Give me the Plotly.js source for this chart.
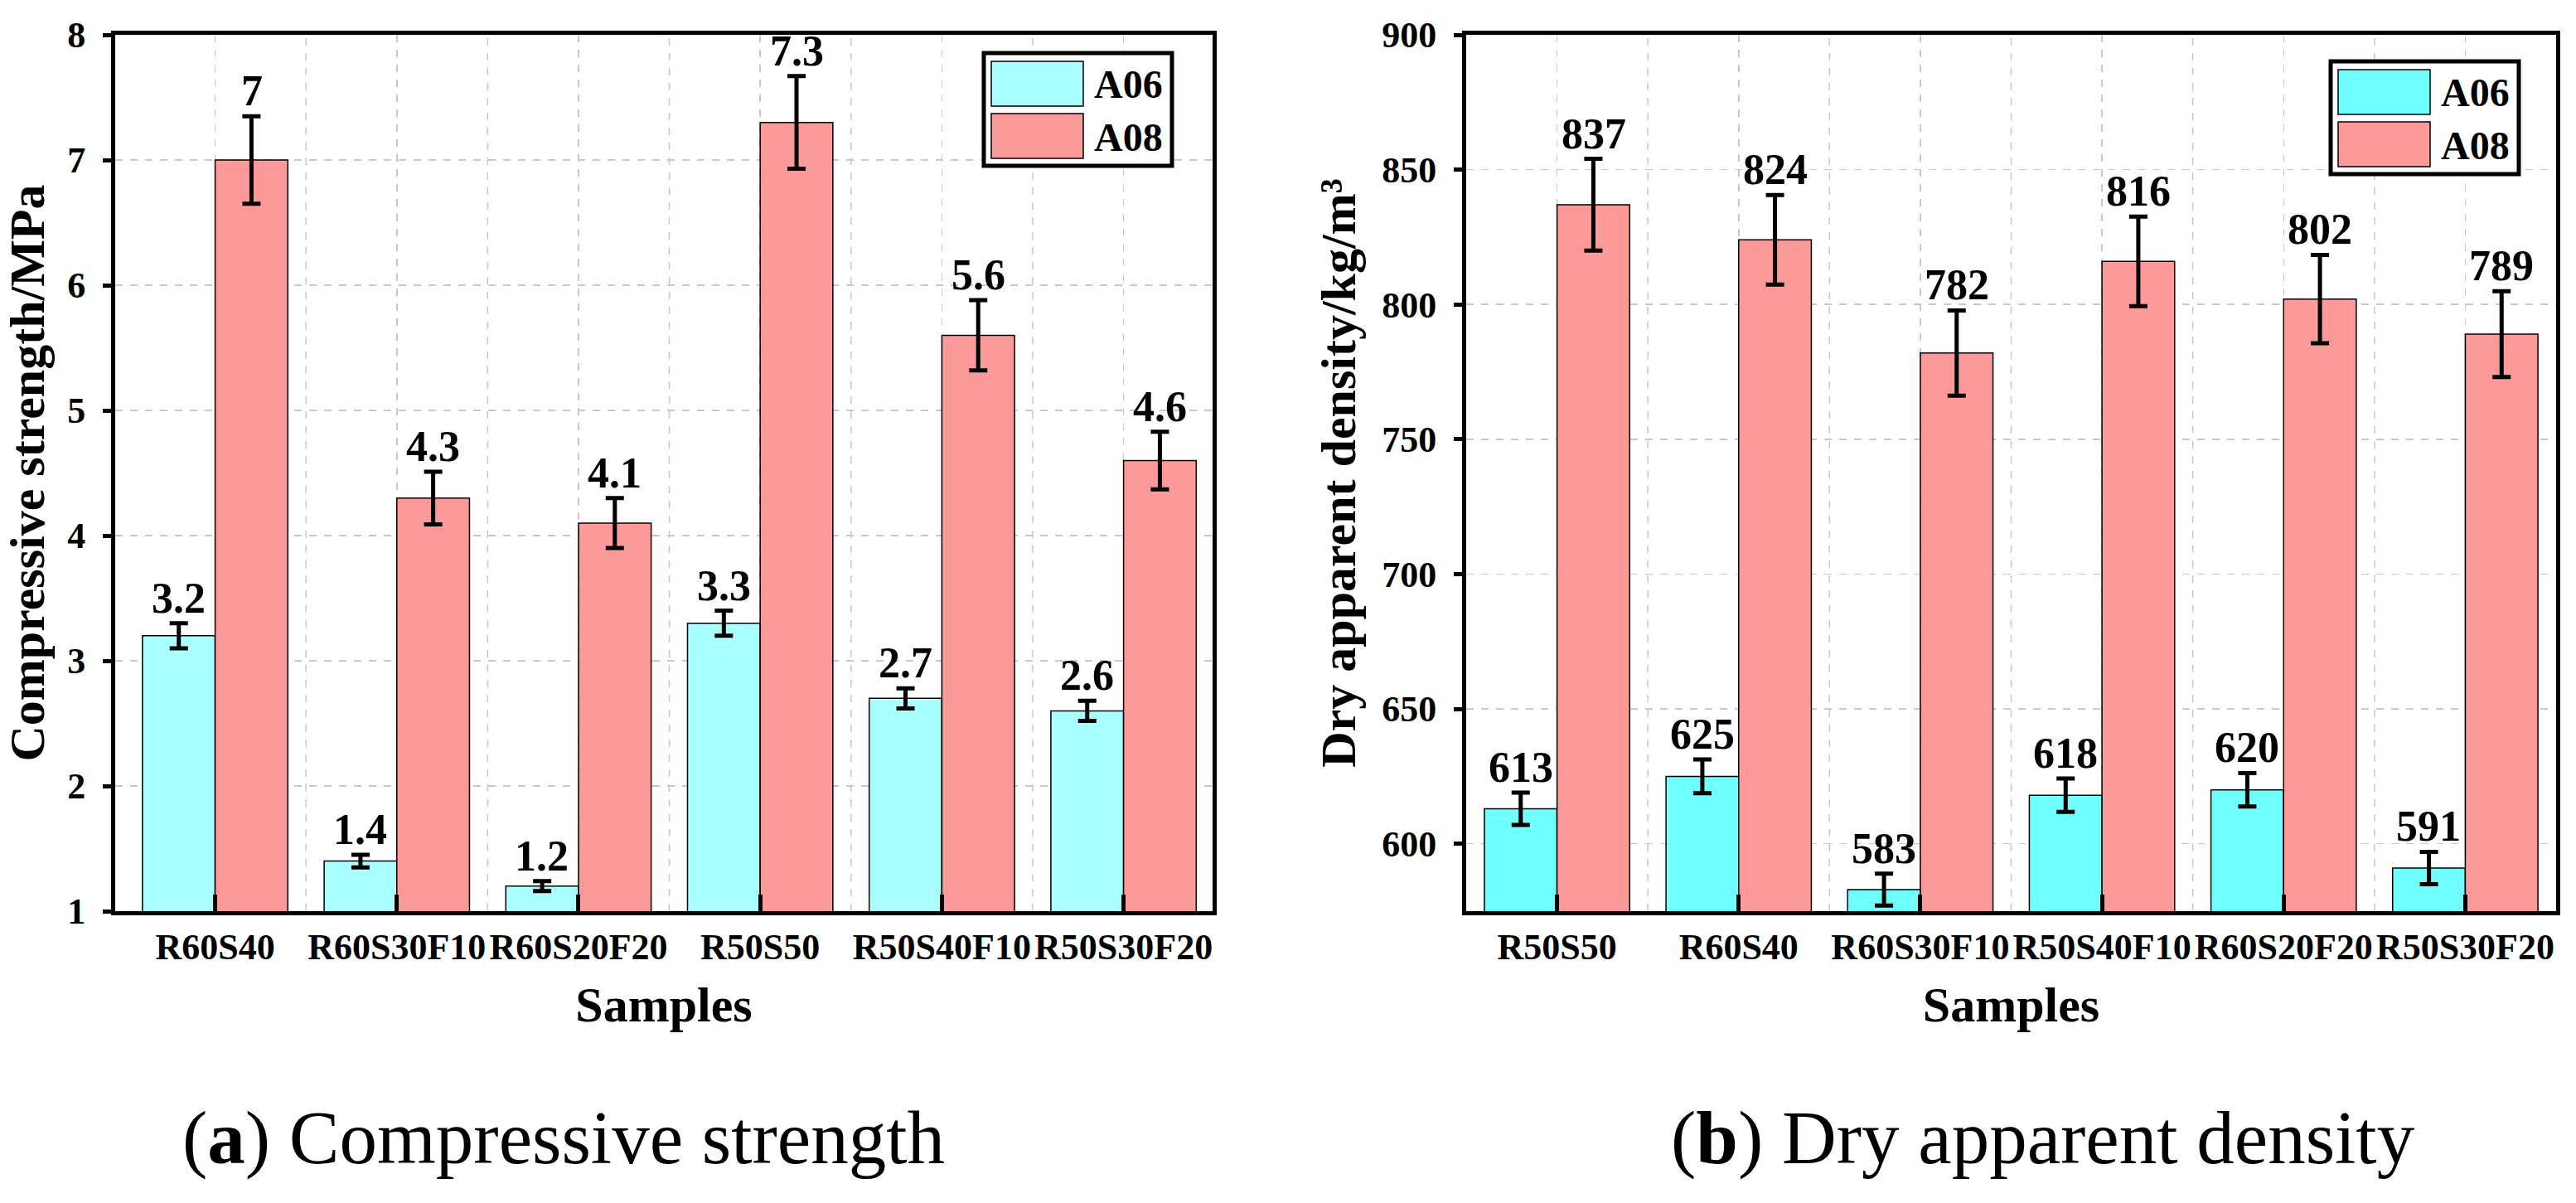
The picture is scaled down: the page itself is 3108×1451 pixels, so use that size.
<!DOCTYPE html>
<html><head><meta charset="utf-8">
<script src="https://cdn.plot.ly/plotly-3.0.1.min.js"></script>
<style>html,body{margin:0;padding:0;background:#fff}</style>
</head><body><div id="chart" style="width:3108px;height:1451px"></div>
<script>
// ---- data ----
const strengthSamples = ['R60S40','R60S30F10','R60S20F20','R50S50','R50S40F10','R50S30F20'];
const strengthA06 = [3.2, 1.4, 1.2, 3.3, 2.7, 2.6];
const strengthA06Err = [0.1, 0.05, 0.04, 0.1, 0.08, 0.08];
const strengthA08 = [7, 4.3, 4.1, 7.3, 5.6, 4.6];
const strengthA08Err = [0.35, 0.21, 0.2, 0.37, 0.28, 0.23];

const densitySamples = ['R50S50','R60S40','R60S30F10','R50S40F10','R60S20F20','R50S30F20'];
const densityA06 = [613, 625, 583, 618, 620, 591];
const densityA06Err = [6, 6.3, 5.9, 6.2, 6.2, 6];
const densityA08 = [837, 824, 782, 816, 802, 789];
const densityA08Err = [17, 16.6, 15.8, 16.6, 16.4, 15.9];

const seriesNames = ['A06', 'A08'];
const strengthTicks = [1,2,3,4,5,6,7,8];
const densityTicks = [600,650,700,750,800,850,900];

// ---- style ----
const W = 3108, H = 1451;
const FONT = 'Liberation Serif, Times New Roman, serif';
const RED = '#FB9A99';
const CYAN_A = '#AAFFFF';
const CYAN_B = '#6FFFFF';
const GRID = '#c8c8c8';
const px = v => v / W;
const py = v => 1 - v / H;

function barTrace(xs, ys, errs, name, color, xa, ya) {
  return {
    type: 'bar', x: xs, y: ys, name: name, xaxis: xa, yaxis: ya,
    marker: {color: color, line: {color: '#000', width: 1.5}},
    error_y: {type: 'data', array: errs, visible: true, color: '#000', thickness: 5, width: 11},
    showlegend: false, hoverinfo: 'x+y'
  };
}

const data = [
  barTrace(strengthSamples, strengthA06, strengthA06Err, seriesNames[0], CYAN_A, 'x', 'y'),
  barTrace(strengthSamples, strengthA08, strengthA08Err, seriesNames[1], RED, 'x', 'y'),
  barTrace(densitySamples, densityA06, densityA06Err, seriesNames[0], CYAN_B, 'x2', 'y2'),
  barTrace(densitySamples, densityA08, densityA08Err, seriesNames[1], RED, 'x2', 'y2')
];

function xAxis(domain, range, anchor) {
  return {
    domain: domain, anchor: anchor, type: 'category', range: range,
    showline: true, linewidth: 5, linecolor: '#000', mirror: true,
    ticks: 'inside', ticklen: 20, tickwidth: 5, tickcolor: '#000',
    showgrid: true, gridcolor: GRID, gridwidth: 1.5, griddash: 'dash',
    zeroline: false, automargin: false, ticklabelstandoff: 0,
    tickfont: {family: FONT, size: 44, weight: 'bold', color: '#000'},
    title: {text: 'Samples', font: {family: FONT, size: 60, weight: 'bold', color: '#000'}, standoff: 26}
  };
}
function yAxis(domain, range, ticks, anchor, title) {
  return {
    domain: domain, anchor: anchor, range: range, tickvals: ticks,
    showline: true, linewidth: 5, linecolor: '#000', mirror: true,
    ticks: 'outside', ticklen: 10, tickwidth: 5, tickcolor: '#000',
    showgrid: true, gridcolor: GRID, gridwidth: 1.5, griddash: 'dash',
    zeroline: false, automargin: false, ticklabelstandoff: 12,
    tickfont: {family: FONT, size: 44, weight: 'bold', color: '#000'},
    title: {text: title, font: {family: FONT, size: 60, weight: 'bold', color: '#000'}, standoff: 14}
  };
}

const yDom = [py(1099), py(42)];
const layout = {
  width: W, height: H, margin: {l: 0, r: 0, t: 0, b: 0},
  paper_bgcolor: '#fff', plot_bgcolor: '#fff',
  barmode: 'group', bargap: 0.2, bargroupgap: 0,
  font: {family: FONT, color: '#000'},
  showlegend: false,
  xaxis: xAxis([px(139), px(1463)], [-0.55, 5.49], 'y'),
  yaxis: yAxis(yDom, [1, 8], strengthTicks, 'x', 'Compressive strength/MPa'),
  xaxis2: xAxis([px(1769), px(3084)], [-0.5, 5.5], 'y2'),
  yaxis2: yAxis(yDom, [575, 900], densityTicks, 'x2', 'Dry apparent density/kg/m³'),
  shapes: [], annotations: []
};

// midpoint vertical gridlines
[['x','y'],['x2','y2']].forEach(([xa, ya]) => {
  for (let i = 0; i < 5; i++) {
    layout.shapes.push({type: 'line', xref: xa, yref: ya + ' domain', x0: i + 0.5, x1: i + 0.5, y0: 0, y1: 1,
      line: {color: GRID, width: 1.5, dash: 'dash'}, layer: 'below'});
  }
});

// value labels above error bars
function labels(xs, ys, errs, xa, ya, shift) {
  xs.forEach((c, i) => {
    layout.annotations.push({xref: xa, yref: ya, x: c, y: ys[i] + errs[i], text: String(ys[i]),
      showarrow: false, xanchor: 'center', yanchor: 'bottom', xshift: shift, yshift: 0,
      font: {family: FONT, size: 52, weight: 'bold', color: '#000'}});
  });
}
labels(strengthSamples, strengthA06, strengthA06Err, 'x', 'y', -44);
labels(strengthSamples, strengthA08, strengthA08Err, 'x', 'y', 44);
labels(densitySamples, densityA06, densityA06Err, 'x2', 'y2', -44);
labels(densitySamples, densityA08, densityA08Err, 'x2', 'y2', 44);

// legends
function legend(x0, y0, cyan) {
  layout.shapes.push({type: 'rect', xref: 'paper', yref: 'paper', x0: px(x0), x1: px(x0 + 227), y0: py(y0), y1: py(y0 + 136),
    line: {color: '#000', width: 5}, fillcolor: '#fff', layer: 'above'});
  const cols = [cyan, RED];
  cols.forEach((c, k) => {
    const top = y0 + 10 + k * 63;
    layout.shapes.push({type: 'rect', xref: 'paper', yref: 'paper', x0: px(x0 + 9), x1: px(x0 + 120), y0: py(top), y1: py(top + 54),
      line: {color: '#000', width: 1.5}, fillcolor: c, layer: 'above'});
    layout.annotations.push({xref: 'paper', yref: 'paper', x: px(x0 + 131), y: py(top + 28), text: seriesNames[k],
      showarrow: false, xanchor: 'left', yanchor: 'middle',
      font: {family: FONT, size: 48, weight: 'bold', color: '#000'}});
  });
}
legend(1187, 64, CYAN_A);
legend(2812, 74, CYAN_B);

// captions
layout.annotations.push({xref: 'paper', yref: 'paper', x: px(680), y: py(1372), text: '(<b>a</b>) Compressive strength',
  showarrow: false, xanchor: 'center', yanchor: 'middle', font: {family: FONT, size: 91, color: '#000'}});
layout.annotations.push({xref: 'paper', yref: 'paper', x: px(2465), y: py(1372), text: '(<b>b</b>) Dry apparent density',
  showarrow: false, xanchor: 'center', yanchor: 'middle', font: {family: FONT, size: 91, color: '#000'}});

Plotly.newPlot('chart', data, layout, {staticPlot: true, displayModeBar: false});
</script>
</body></html>
